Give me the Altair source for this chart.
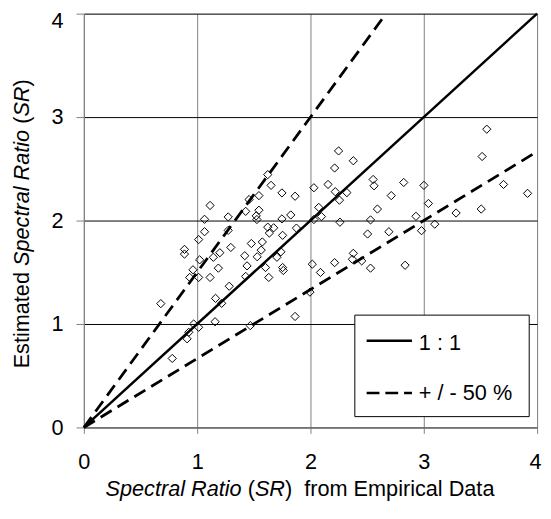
import altair as alt
import pandas as pd

# ---------------- data ----------------
sr_empirical = [0.679, 0.78, 0.888, 0.888, 0.911, 0.926, 0.934, 0.963, 0.969, 1.013,
                1.013, 1.013, 1.022, 1.065, 1.065, 1.114, 1.114, 1.143, 1.158, 1.162,
                1.187, 1.20, 1.216, 1.274, 1.274, 1.283, 1.297, 1.42, 1.428, 1.428,
                1.44, 1.458, 1.469, 1.478, 1.521, 1.527, 1.53, 1.545, 1.545, 1.565,
                1.575, 1.603, 1.623, 1.623, 1.632, 1.637, 1.652, 1.675, 1.704, 1.739,
                1.748, 1.748, 1.754, 1.754, 1.76, 1.826, 1.864, 1.876, 1.864, 1.995,
                2.016, 2.03, 2.03, 2.073, 2.088, 2.097, 2.155, 2.213, 2.213, 2.219,
                2.248, 2.256, 2.26, 2.321, 2.37, 2.378, 2.378, 2.452, 2.504, 2.53,
                2.53, 2.553, 2.561, 2.591, 2.692, 2.713, 2.823, 2.835, 2.931, 2.98,
                3.001, 3.041, 3.097, 3.285, 3.507, 3.515, 3.556, 3.704, 3.916]
sr_estimated = [1.197, 0.667, 1.721, 1.676, 0.857, 0.92, 1.45, 1.524, 1.0, 0.968,
                1.816, 1.45, 1.62, 2.012, 1.892, 2.146, 1.45, 1.645, 1.022, 1.248,
                1.54, 1.689, 1.2, 2.035, 1.905, 1.365, 1.74, 1.66, 2.089, 1.46,
                1.562, 2.203, 0.984, 1.778, 2.045, 2.01, 1.65, 2.241, 2.10, 1.714,
                1.793, 1.546, 2.444, 1.936, 1.45, 1.879, 2.34, 1.93, 1.645, 1.698,
                2.267, 2.016, 1.857, 1.546, 1.517, 2.054, 2.235, 1.927, 1.073, 1.308,
                1.578, 2.317, 2.01, 2.127, 1.498, 2.038, 2.349, 2.508, 1.593, 2.279,
                2.673, 2.197, 1.984, 2.27, 1.626, 2.578, 1.683, 1.61, 1.87, 2.006,
                1.54, 2.397, 2.336, 2.111, 1.892, 2.241, 2.368, 1.568, 2.041, 1.902,
                2.34, 2.165, 1.965, 2.073, 2.111, 2.619, 2.883, 2.349, 2.263]

axis_ticks = [0, 1, 2, 3, 4]

line_names = ["1 : 1", "1 : 1", "+50 %", "+50 %", "-50 %", "-50 %"]
line_x = [0, 4, 0, 8 / 3, 0, 4]
line_y = [0, 4, 0, 4, 0, 8 / 3]

legend_labels = ["1 : 1", "+ / - 50 %"]

x_title_parts = [("Spectral Ratio", "italic"), ("(", "normal"), ("SR", "italic"),
                 (")", "normal"), ("from Empirical Data", "normal")]
x_title_gaps = [0, 1, 0, 0, 2]  # number of spaces before each part
y_title_parts = [("Estimated", "normal"), ("Spectral Ratio", "italic"), ("(", "normal"),
                 ("SR", "italic"), (")", "normal")]
y_title_gaps = [0, 1, 1, 0, 0]

# ---------------- layout / style ----------------
FONT = "Liberation Sans"
W, H = 460, 420
TICK_FS = 22
TITLE_FS = 22
LEG_FS = 22

AFM = {" ": 278, "(": 333, ")": 333, "S": 667, "R": 722, "E": 667, "D": 722, "a": 556,
       "c": 500, "d": 556, "e": 556, "f": 278, "i": 222, "l": 222, "m": 833, "o": 556,
       "p": 556, "r": 333, "s": 500, "t": 278}


def tw(s, fs):
    return sum(AFM.get(c, 556) for c in s) * fs / 1000.0


def layout_parts(parts, gaps, fs):
    pos, cur = [], 0.0
    for (txt, _), g in zip(parts, gaps):
        cur += g * AFM[" "] * fs / 1000.0
        pos.append(cur)
        cur += tw(txt, fs)
    return pos, cur


xs = alt.Scale(domain=[0, 4], nice=False, zero=True)
ys = alt.Scale(domain=[0, 4], nice=False, zero=True)

x_axis = alt.Axis(values=axis_ticks, format="d", title=None, grid=True, gridColor="#808080",
                  gridWidth=1, domainColor="#808080", domainWidth=1, tickColor="#808080",
                  tickSize=6, labelFont=FONT, labelFontSize=TICK_FS, labelColor="black",
                  labelPadding=19, labelFlush=False, labelOverlap=False,
                  labelOffset={"condition": {"test": "datum.value === 4", "value": -2},
                               "value": 0})
y_axis = alt.Axis(values=axis_ticks, format="d", title=None, grid=True, gridColor="black",
                  gridWidth=1, domainColor="#808080", domainWidth=1, tickColor="#808080",
                  tickSize=8, labelFont=FONT, labelFontSize=TICK_FS, labelColor="black",
                  labelPadding=13, labelFlush=False, labelOverlap=False,
                  labelOffset={"condition": {"test": "datum.value === 4", "value": 7},
                               "value": 0})

pts_df = pd.DataFrame({"x": sr_empirical, "y": sr_estimated})
lines_df = pd.DataFrame({"name": line_names, "x": line_x, "y": line_y})

points = alt.Chart(pts_df).mark_point(
    shape="diamond", filled=False, color="black", size=70, strokeWidth=1, opacity=1
).encode(x=alt.X("x:Q", scale=xs, axis=x_axis), y=alt.Y("y:Q", scale=ys, axis=y_axis))

solid = alt.Chart(lines_df).transform_filter(alt.datum.name == "1 : 1").mark_line(
    color="black", strokeWidth=2.5
).encode(x=alt.X("x:Q", scale=xs), y=alt.Y("y:Q", scale=ys), detail="name:N")

dashed = alt.Chart(lines_df).transform_filter(alt.datum.name != "1 : 1").mark_line(
    color="black", strokeWidth=2.8, strokeDash=[13, 7]
).encode(x=alt.X("x:Q", scale=xs), y=alt.Y("y:Q", scale=ys), detail="name:N")

one = pd.DataFrame({"a": [0]})
leg_box = alt.Chart(one).mark_rect(fill="white", stroke="black", strokeWidth=1).encode(
    x=alt.value(275), x2=alt.value(452), y=alt.value(306), y2=alt.value(409))
leg_solid = alt.Chart(one).mark_rule(color="black", strokeWidth=2.5).encode(
    x=alt.value(287), x2=alt.value(333), y=alt.value(332))
leg_dash = alt.Chart(one).mark_rule(color="black", strokeWidth=2.5, strokeDash=[13, 6]).encode(
    x=alt.value(287), x2=alt.value(333), y=alt.value(385))
leg_text = alt.Chart(pd.DataFrame({"t": legend_labels, "yy": [341, 392]})).mark_text(
    align="left", baseline="alphabetic", font=FONT, fontSize=LEG_FS, color="black"
).encode(x=alt.value(340), y=alt.Y("yy:Q", scale=None), text="t:N")

layers = [points, solid, dashed, leg_box, leg_solid, leg_dash, leg_text]

# x-axis title (mixed italic / normal)
xpos, xtot = layout_parts(x_title_parts, x_title_gaps, TITLE_FS)
x0 = 22
for (txt, style), p in zip(x_title_parts, xpos):
    layers.append(alt.Chart(pd.DataFrame({"t": [txt]})).mark_text(
        align="left", baseline="alphabetic", font=FONT, fontSize=TITLE_FS,
        fontStyle=style, color="black"
    ).encode(x=alt.value(x0 + p), y=alt.value(490), text="t:N"))

# y-axis title (rotated, mixed)
ypos, ytot = layout_parts(y_title_parts, y_title_gaps, TITLE_FS)
y0 = 360
for (txt, style), p in zip(y_title_parts, ypos):
    layers.append(alt.Chart(pd.DataFrame({"t": [txt]})).mark_text(
        align="left", baseline="alphabetic", font=FONT, fontSize=TITLE_FS,
        fontStyle=style, color="black", angle=270
    ).encode(x=alt.value(-56), y=alt.value(y0 - p), text="t:N"))

chart = alt.layer(*layers).properties(
    width=W, height=H,
    autosize=alt.AutoSizeParams(type="none"),
    padding={"left": 77, "top": 2, "right": 6, "bottom": 76},
).configure_view(stroke=None).configure(background="white")

chart.save("out.html", embed_options={"renderer": "svg", "actions": False})
